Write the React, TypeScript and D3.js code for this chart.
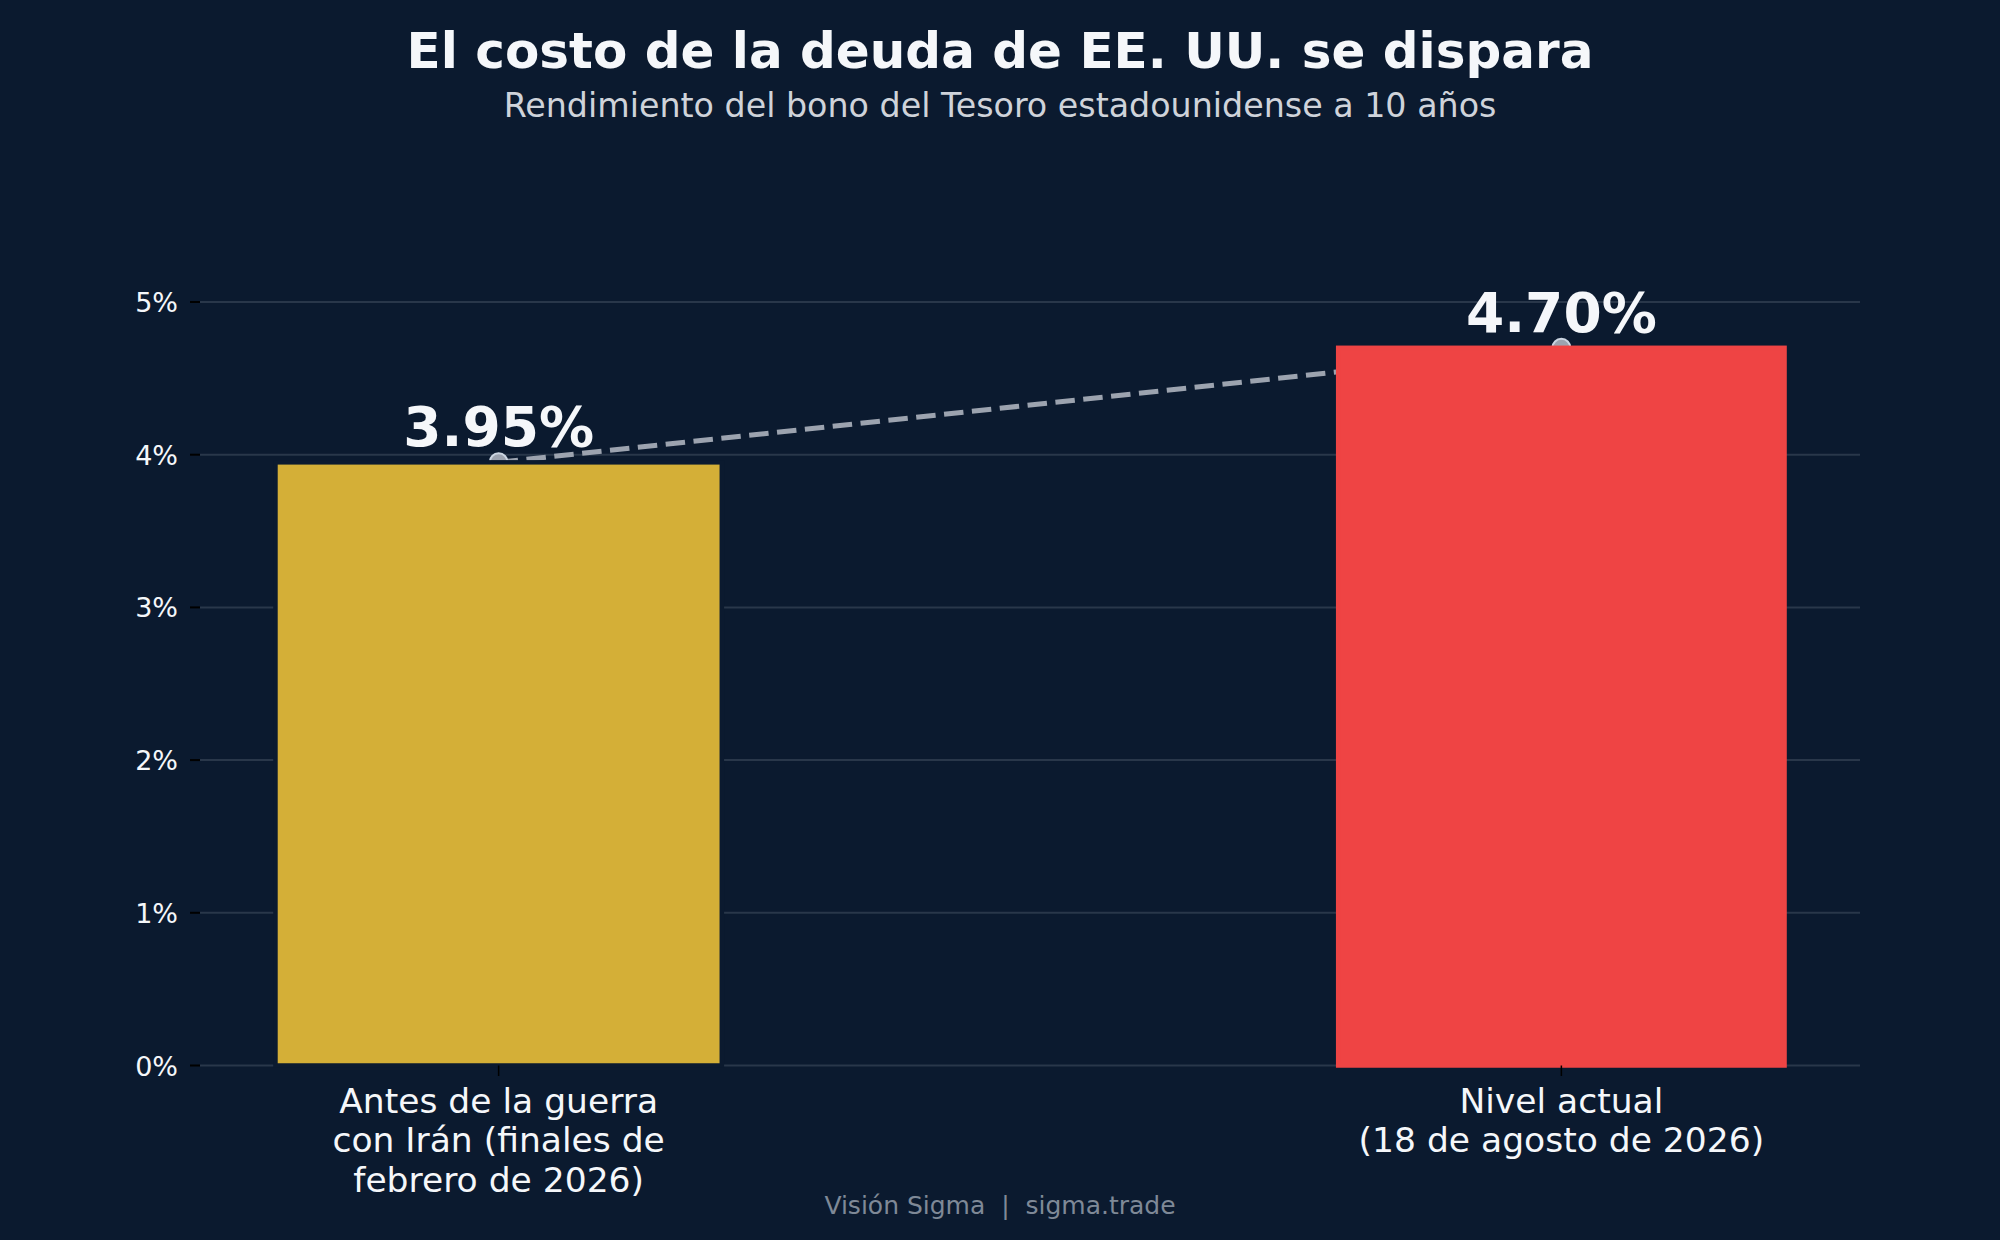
import React from "react";
import * as d3 from "d3";

// ---- data ----
const categories: string[][] = [
  ["Antes de la guerra", "con Irán (finales de", "febrero de 2026)"],
  ["Nivel actual", "(18 de agosto de 2026)"],
];
const yields: number[] = [3.95, 4.7];
const yTicks: number[] = [0, 1, 2, 3, 4, 5];
const titleText = "El costo de la deuda de EE. UU. se dispara";
const subtitleText = "Rendimiento del bono del Tesoro estadounidense a 10 años";
const footerText = "Visión Sigma  |  sigma.trade";

// ---- style ----
const W = 2000;
const H = 1240;
const BG = "#0b1a2f";
const GRID = "#29374a";
const BAR_COLORS = ["#d4af37", "#ef4444"];
const BAR_EDGES = [BG, "#ef4444"];
const FONT = "'DejaVu Sans', sans-serif";
const BAR_WIDTH = 0.42;

export default function App() {
  const x = d3.scaleLinear().domain([-0.281, 1.281]).range([200, 1860]);
  const y = d3.scaleLinear().domain([0, 5]).range([1065.5, 302]);
  const bw = x(BAR_WIDTH) - x(0);

  const line = d3
    .line<number>()
    .x((_, i) => x(i))
    .y((d) => y(d));

  return (
    <svg
      width={W}
      height={H}
      viewBox={`0 0 ${W} ${H}`}
      style={{ position: "absolute", left: 0, top: 0, display: "block" }}
      fontFamily={FONT}
    >
      <rect x={0} y={0} width={W} height={H} fill={BG} />

      {/* title */}
      <text x={1000} y={68} textAnchor="middle" fontSize={50} fontWeight="bold" fill="#f5f7fa">
        {titleText}
      </text>
      <text x={1000} y={117} textAnchor="middle" fontSize={33.3} fill="#cfd3da">
        {subtitleText}
      </text>

      {/* grid */}
      {yTicks.map((t) => (
        <line key={"g" + t} x1={200} x2={1860} y1={y(t)} y2={y(t)} stroke={GRID} strokeWidth={2} />
      ))}

      {/* dashed connector + markers (behind bars) */}
      <path
        d={line(yields) || ""}
        fill="none"
        stroke="#9ca3af"
        strokeWidth={5}
        strokeDasharray="19.5 8.5"
      />
      {yields.map((v, i) => (
        <circle key={"c" + i} cx={x(i)} cy={y(v)} r={9} fill="#9ca3af" stroke="#cbd5e1" strokeWidth={2} />
      ))}

      {/* bars */}
      {yields.map((v, i) => (
        <rect
          key={"b" + i}
          x={x(i) - bw / 2}
          y={y(v)}
          width={bw}
          height={y(0) - y(v)}
          fill={BAR_COLORS[i]}
          stroke={BAR_EDGES[i]}
          strokeWidth={4.5}
        />
      ))}

      {/* value labels */}
      {yields.map((v, i) => (
        <text
          key={"v" + i}
          x={x(i)}
          y={y(v) - 16}
          textAnchor="middle"
          fontSize={55}
          fontWeight="bold"
          fill="#f5f7fa"
        >
          {v.toFixed(2) + "%"}
        </text>
      ))}

      {/* y axis ticks */}
      {yTicks.map((t) => (
        <g key={"yt" + t}>
          <line x1={190} x2={200} y1={y(t)} y2={y(t)} stroke="#000" strokeWidth={2} />
          <text
            x={178}
            y={y(t) + 10}
            textAnchor="end"
            fontSize={27}
            fill="#f5f7fa"
          >
            {t + "%"}
          </text>
        </g>
      ))}

      {/* x axis ticks */}
      {categories.map((lines, i) => (
        <g key={"xt" + i}>
          <line x1={x(i)} x2={x(i)} y1={y(0)} y2={y(0) + 10.5} stroke="#000" strokeWidth={1.5} />
          {lines.map((ln, j) => (
            <text
              key={j}
              x={x(i)}
              y={1112.7 + j * 39.5}
              textAnchor="middle"
              fontSize={34.5}
              fill="#f5f7fa"
            >
              {ln}
            </text>
          ))}
        </g>
      ))}

      {/* footer */}
      <text
        x={1000}
        y={1214}
        textAnchor="middle"
        fontSize={25}
        fill="#7f8997"
        style={{ whiteSpace: "pre" }}
      >
        {footerText}
      </text>
    </svg>
  );
}
